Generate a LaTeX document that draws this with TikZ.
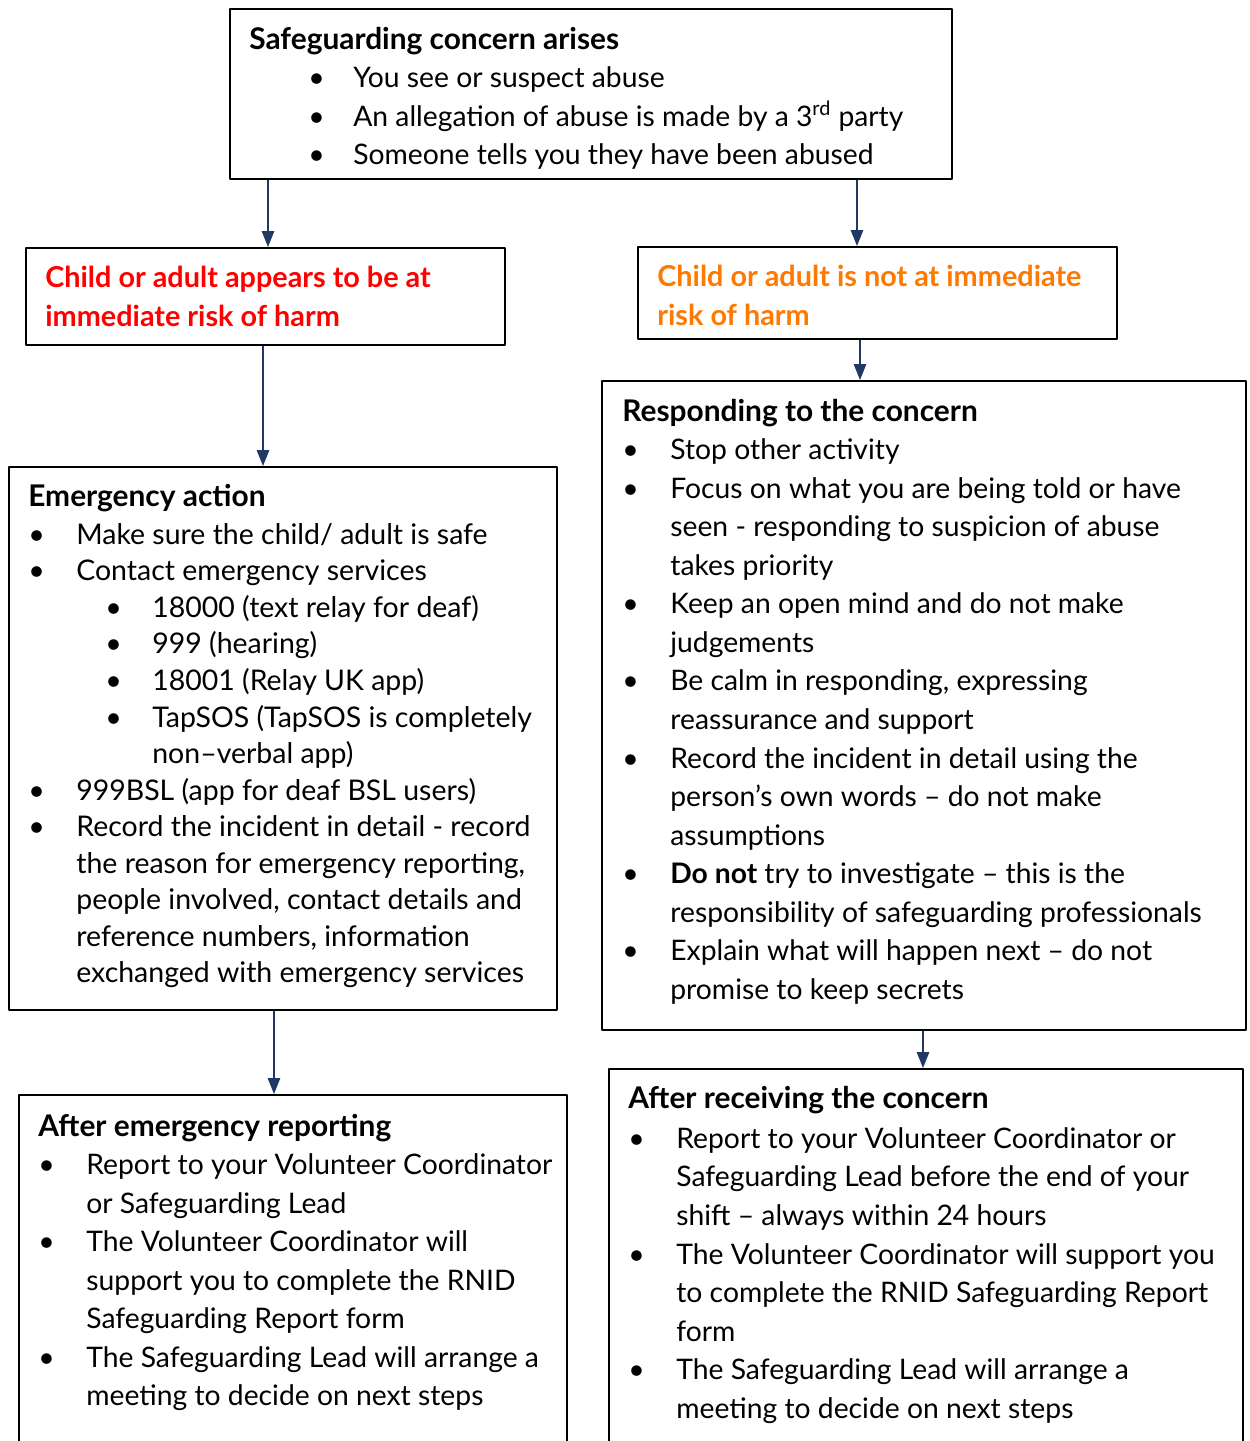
\documentclass[tikz,border=0pt]{standalone}
\usepackage{fontspec}
\setmainfont{Lato}
\usetikzlibrary{arrows.meta}
\definecolor{navy}{RGB}{32,56,100}
\definecolor{alertred}{RGB}{255,0,0}
\definecolor{amber}{RGB}{255,120,0}
\newlength{\pxu}\setlength{\pxu}{0.02cm}
\newcommand{\bodyfont}{\fontsize{16.1}{21.95}\selectfont}
\newcommand{\tightfont}{\fontsize{16.2}{20.8}\selectfont}
\newcommand{\headfont}{\fontsize{17}{21.95}\selectfont\bfseries}
\newcommand{\head}[1]{{\headfont #1}}
\begin{document}
\begin{tikzpicture}[x=0.02cm, y=-0.02cm, line join=round,
  box/.style={draw, line width=1.1pt, anchor=north west, inner sep=0pt},
  boxtext/.style={anchor=base west, inner sep=0pt, font=\bodyfont},
  arr/.style={draw=navy, line width=0.8pt, -{Triangle[length=9pt,width=7pt]}}]
	\useasboundingbox (0,0) rectangle (1250,1441);
	\clip (0,0) rectangle (1250,1441);
	% boxes
	\node[box, minimum width=14.44cm, minimum height=3.4cm] (concern) at (229,8) {};
	\node[box, minimum width=9.58cm, minimum height=1.94cm] (urgent) at (25,247) {};
	\node[box, minimum width=9.58cm, minimum height=1.84cm] (noturgent) at (637,246) {};
	\node[box, minimum width=10.96cm, minimum height=10.86cm] (emergency) at (8,466) {};
	\node[box, minimum width=12.88cm, minimum height=12.98cm] (respond) at (601,380) {};
	\node[box, minimum width=10.96cm, minimum height=8cm] (afteremerg) at (18,1094) {};
	\node[box, minimum width=12.68cm, minimum height=8.4cm] (afterrecv) at (608,1068) {};
	% texts
	\node[boxtext] (concern-t) at (249,49) {\begin{tabular}[t]{@{\hspace{59\pxu}}p{45\pxu}@{}l@{}}
		\multicolumn{2}{@{}l@{}}{\head{Safeguarding concern arises}}\\
		\textbullet & You see or suspect abuse\\
		\textbullet & An allegation of abuse is made by a 3\textsuperscript{rd} party\\
		\textbullet & Someone tells you they have been abused
	\end{tabular}};
	\node[boxtext, align=left, text=alertred, font=\fontsize{16.4}{21.95}\selectfont\bfseries] (urgent-t) at (45,326)
		{Child or adult appears to be at\\ immediate risk of harm};
	\node[boxtext, align=left, text=amber, font=\fontsize{16.4}{21.95}\selectfont\bfseries] (noturgent-t) at (657,325)
		{Child or adult is not at immediate\\ risk of harm};
	\node[boxtext, font=\tightfont] (emergency-t) at (28,506) {\begin{tabular}[t]{@{}p{48\pxu}@{}p{76\pxu}@{}l@{}}
		\multicolumn{3}{@{}l@{}}{\head{Emergency action}}\\[1pt]
		\textbullet & \multicolumn{2}{@{}l@{}}{Make sure the child/ adult is safe}\\
		\textbullet & \multicolumn{2}{@{}l@{}}{Contact emergency services}\\
		& \hspace*{29\pxu}\textbullet & 18000 (text relay for deaf)\\
		& \hspace*{29\pxu}\textbullet & 999 (hearing)\\
		& \hspace*{29\pxu}\textbullet & 18001 (Relay UK app)\\
		& \hspace*{29\pxu}\textbullet & TapSOS (TapSOS is completely\\
		& & non–verbal app)\\
		\textbullet & \multicolumn{2}{@{}l@{}}{999BSL (app for deaf BSL users)}\\
		\textbullet & \multicolumn{2}{@{}l@{}}{Record the incident in detail - record}\\
		& \multicolumn{2}{@{}l@{}}{the reason for emergency reporting,}\\
		& \multicolumn{2}{@{}l@{}}{people involved, contact details and}\\
		& \multicolumn{2}{@{}l@{}}{reference numbers, information}\\
		& \multicolumn{2}{@{}l@{}}{exchanged with emergency services}
	\end{tabular}};
	\node[boxtext] (respond-t) at (622,421) {\begin{tabular}[t]{@{}p{48\pxu}@{}l@{}}
		\multicolumn{2}{@{}l@{}}{\head{Responding to the concern}}\\
		\textbullet & Stop other activity\\
		\textbullet & Focus on what you are being told or have\\
		& seen - responding to suspicion of abuse\\
		& takes priority\\
		\textbullet & Keep an open mind and do not make\\
		& judgements\\
		\textbullet & Be calm in responding, expressing\\
		& reassurance and support\\
		\textbullet & Record the incident in detail using the\\
		& person’s own words – do not make\\
		& assumptions\\
		\textbullet & \textbf{Do not} try to investigate – this is the\\
		& responsibility of safeguarding professionals\\
		\textbullet & Explain what will happen next – do not\\
		& promise to keep secrets
	\end{tabular}};
	\node[boxtext] (afteremerg-t) at (38,1136) {\begin{tabular}[t]{@{}p{48\pxu}@{}l@{}}
		\multicolumn{2}{@{}l@{}}{\head{After emergency reporting}}\\
		\textbullet & Report to your Volunteer Coordinator\\
		& or Safeguarding Lead\\
		\textbullet & The Volunteer Coordinator will\\
		& support you to complete the RNID\\
		& Safeguarding Report form\\
		\textbullet & The Safeguarding Lead will arrange a\\
		& meeting to decide on next steps
	\end{tabular}};
	\node[boxtext] (afterrecv-t) at (628,1108) {\begin{tabular}[t]{@{}p{48\pxu}@{}l@{}}
		\multicolumn{2}{@{}l@{}}{\head{After receiving the concern}}\\[1pt]
		\textbullet & Report to your Volunteer Coordinator or\\
		& Safeguarding Lead before the end of your\\
		& shift – always within 24 hours\\
		\textbullet & The Volunteer Coordinator will support you\\
		& to complete the RNID Safeguarding Report\\
		& form\\
		\textbullet & The Safeguarding Lead will arrange a\\
		& meeting to decide on next steps
	\end{tabular}};
	% arrows
	\draw[arr] (268,0 |- concern.south) -- (268,0 |- urgent.north);
	\draw[arr] (857,0 |- concern.south) -- (857,0 |- noturgent.north);
	\draw[arr] (263,0 |- urgent.south) -- (263,0 |- emergency.north);
	\draw[arr] (860,0 |- noturgent.south) -- (860,0 |- respond.north);
	\draw[arr] (274,0 |- emergency.south) -- (274,0 |- afteremerg.north);
	\draw[arr] (923,0 |- respond.south) -- (923,0 |- afterrecv.north);
\end{tikzpicture}
\end{document}
